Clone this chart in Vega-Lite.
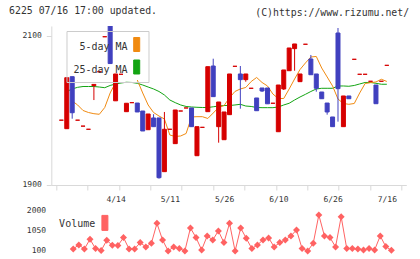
{
  "$schema": "https://vega.github.io/schema/vega-lite/v6.json",
  "background": "white",
  "padding": {"left": 8.3, "top": 6, "right": 0, "bottom": 0},
  "config": {
    "view": {"stroke": null},
    "font": "DejaVu Sans Mono",
    "axis": {"labelFont": "DejaVu Sans Mono", "labelFontSize": 8, "labelColor": "#333333", "domainColor": "#d9d9d9", "tickColor": "#d9d9d9", "grid": false}
  },
  "title": {"text": "6225 07/16 17:00 updated.", "anchor": "start", "frame": "group", "font": "DejaVu Sans Mono", "fontSize": 9.85, "fontWeight": "normal", "color": "#333333", "dy": 12, "dx": -42.2},
  "datasets": {
    "prices": [
      {"j": 0, "o": 1987, "c": 1987, "h": 1987, "l": 1987, "ma5": null, "ma25": null, "vol": null},
      {"j": 1, "o": 1975.6, "c": 2044, "h": 2044, "l": 1975.6, "ma5": null, "ma25": 2025.5, "vol": null},
      {"j": 2, "o": 2045.4, "c": 1997, "h": 2045.4, "l": 1989, "ma5": 2012.8, "ma25": 2028.9, "vol": null},
      {"j": 3, "o": 1987, "c": 1987, "h": 1987, "l": 1987, "ma5": 2007.4, "ma25": 2031.1, "vol": 194},
      {"j": 4, "o": 1979, "c": 1979, "h": 1979, "l": 1979, "ma5": 2000, "ma25": 2032.2, "vol": 383},
      {"j": 5, "o": 1974.8, "c": 1974.8, "h": 1974.8, "l": 1974.8, "ma5": 1997.3, "ma25": 2032.2, "vol": 194},
      {"j": 6, "o": 2033.5, "c": 2035, "h": 2035, "l": 2014, "ma5": 1995.7, "ma25": 2032.2, "vol": 647},
      {"j": 7, "o": 2052, "c": 2052, "h": 2052, "l": 2052, "ma5": 1994.9, "ma25": 2031.5, "vol": 208},
      {"j": 8, "o": 2099, "c": 2099, "h": 2099, "l": 2099, "ma5": 2004, "ma25": 2030.6, "vol": 114},
      {"j": 9, "o": 2125, "c": 2063, "h": 2125, "l": 2063, "ma5": 2023.5, "ma25": 2033.6, "vol": 600},
      {"j": 10, "o": 2013, "c": 2049, "h": 2049, "l": 2013, "ma5": 2037.6, "ma25": 2035.6, "vol": 364},
      {"j": 11, "o": 2048.6, "c": 2048.6, "h": 2048.6, "l": 2048.6, "ma5": null, "ma25": 2036.9, "vol": 350},
      {"j": 12, "o": 1998.4, "c": 2009.7, "h": 2009.7, "l": 1998.4, "ma5": null, "ma25": 2037.9, "vol": 727},
      {"j": 13, "o": 2010.5, "c": 2010.5, "h": 2010.5, "l": 2010.5, "ma5": null, "ma25": 2037.6, "vol": 194},
      {"j": 14, "o": 2010, "c": 1998, "h": 2010, "l": 1998, "ma5": 2040.9, "ma25": 2036.5, "vol": 194},
      {"j": 15, "o": 1999.3, "c": 1972.5, "h": 1999.3, "l": 1972.5, "ma5": 2023.5, "ma25": 2034.2, "vol": 491},
      {"j": 16, "o": 1974.2, "c": 1995.3, "h": 1995.3, "l": 1974.2, "ma5": 2007.4, "ma25": 2031.5, "vol": 289},
      {"j": 17, "o": 1990, "c": 1978.3, "h": 1995, "l": 1978.3, "ma5": 1997.3, "ma25": 2028.9, "vol": 458},
      {"j": 18, "o": 1990, "c": 1909.8, "h": 1990, "l": 1908.5, "ma5": 1992.6, "ma25": 2025.5, "vol": 1401},
      {"j": 19, "o": 1917.9, "c": 1974.8, "h": 1998, "l": 1917.9, "ma5": 1988.6, "ma25": 2020.8, "vol": 619},
      {"j": 20, "o": 1974.8, "c": 1974.8, "h": 1974.8, "l": 1974.8, "ma5": 1967.1, "ma25": 2014.1, "vol": 100},
      {"j": 21, "o": 1955.5, "c": 2000.7, "h": 2000.7, "l": 1955.5, "ma5": 1965.1, "ma25": 2010.5, "vol": 289},
      {"j": 22, "o": 1999.3, "c": 1999.3, "h": 1999.3, "l": 1999.3, "ma5": 1965.8, "ma25": 2007.4, "vol": 208},
      {"j": 23, "o": 2003.4, "c": 2003.4, "h": 2003.4, "l": 2003.4, "ma5": 1969.1, "ma25": 2005.4, "vol": 100},
      {"j": 24, "o": 2003.4, "c": 1978.3, "h": 2003.4, "l": 1978.3, "ma5": 1991.3, "ma25": 2004.7, "vol": 1184},
      {"j": 25, "o": 1939.3, "c": 1978.3, "h": 1978.3, "l": 1939.3, "ma5": 1991.7, "ma25": 2004.3, "vol": 727},
      {"j": 26, "o": 1977.4, "c": 1977.4, "h": 1977.4, "l": 1977.4, "ma5": 1991.7, "ma25": 2004, "vol": 147},
      {"j": 27, "o": 1998.4, "c": 2058.8, "h": 2058.8, "l": 1998.4, "ma5": 1989.3, "ma25": 2004, "vol": 807},
      {"j": 28, "o": 2059.7, "c": 2018.6, "h": 2069.5, "l": 2018.6, "ma5": 1996.6, "ma25": 2005, "vol": 619},
      {"j": 29, "o": 1978.3, "c": 2011.4, "h": 2011.4, "l": 1956.8, "ma5": 2004, "ma25": 2006, "vol": 1043},
      {"j": 30, "o": 1960.8, "c": 1998, "h": 1998, "l": 1960.8, "ma5": 2006.7, "ma25": 2006.7, "vol": 491},
      {"j": 31, "o": 1994.4, "c": 2049, "h": 2049, "l": 1994.4, "ma5": 2017, "ma25": 2006.7, "vol": 1401},
      {"j": 32, "o": 2059.3, "c": 2059.3, "h": 2059.3, "l": 2059.3, "ma5": 2025.5, "ma25": 2007.4, "vol": 90},
      {"j": 33, "o": 2049, "c": 2041.4, "h": 2059.7, "l": 2002.4, "ma5": 2028.9, "ma25": 2008.3, "vol": 1184},
      {"j": 34, "o": 2041.4, "c": 2049, "h": 2049, "l": 2038.6, "ma5": 2030.9, "ma25": 2006, "vol": 694},
      {"j": 35, "o": 2029.8, "c": 2029.8, "h": 2029.8, "l": 2029.8, "ma5": 2038.9, "ma25": 2005.4, "vol": 208},
      {"j": 36, "o": 2016.8, "c": 1999.7, "h": 2016.8, "l": 1999.7, "ma5": 2044.3, "ma25": 2004, "vol": 383},
      {"j": 37, "o": 2030.2, "c": 2026.2, "h": 2030.2, "l": 2024.8, "ma5": 2037.6, "ma25": 2003.8, "vol": 619},
      {"j": 38, "o": 2030.2, "c": 2009, "h": 2030.2, "l": 2009, "ma5": 2032.9, "ma25": 2003.8, "vol": 713},
      {"j": 39, "o": 2009.7, "c": 2009.7, "h": 2009.7, "l": 2009.7, "ma5": 2022.1, "ma25": 2003.8, "vol": 289},
      {"j": 40, "o": 1971.5, "c": 2034.2, "h": 2034.2, "l": 1971.5, "ma5": 2016.1, "ma25": 2004.7, "vol": 491},
      {"j": 41, "o": 2028.9, "c": 2054.4, "h": 2054.4, "l": 2027.5, "ma5": 2016.1, "ma25": 2007.4, "vol": 619},
      {"j": 42, "o": 2053.4, "c": 2083.9, "h": 2083.9, "l": 2053.4, "ma5": 2028.9, "ma25": 2009.7, "vol": 807},
      {"j": 43, "o": 2083, "c": 2089.3, "h": 2089.3, "l": 2053.4, "ma5": 2042.3, "ma25": 2014.1, "vol": 1090},
      {"j": 44, "o": 2038.7, "c": 2049, "h": 2049, "l": 2038.7, "ma5": 2055, "ma25": 2018.1, "vol": 208},
      {"j": 45, "o": 2088.9, "c": 2088.9, "h": 2088.9, "l": 2088.9, "ma5": 2063.8, "ma25": 2021.7, "vol": 100},
      {"j": 46, "o": 2069.1, "c": 2048, "h": 2074.5, "l": 2048, "ma5": 2071.8, "ma25": 2025.5, "vol": 458},
      {"j": 47, "o": 2049, "c": 2029.8, "h": 2049, "l": 2025.2, "ma5": 2072.5, "ma25": 2028.9, "vol": 1797},
      {"j": 48, "o": 2024.8, "c": 2015.8, "h": 2024.8, "l": 2015.8, "ma5": 2057, "ma25": 2029.8, "vol": 807},
      {"j": 49, "o": 2010, "c": 1998, "h": 2010, "l": 1994.4, "ma5": 2045, "ma25": 2029.8, "vol": 727},
      {"j": 50, "o": 1991.3, "c": 1978.3, "h": 1991.3, "l": 1978.3, "ma5": 2032.9, "ma25": 2029.8, "vol": 289},
      {"j": 51, "o": 2104, "c": 2029.3, "h": 2110.7, "l": 1985, "ma5": 2015.4, "ma25": 2032.9, "vol": 1717},
      {"j": 52, "o": 1978.3, "c": 2019.5, "h": 2019.5, "l": 1978.3, "ma5": 2009.4, "ma25": 2032.9, "vol": 208},
      {"j": 53, "o": 2019.5, "c": 2015.8, "h": 2019.5, "l": 2015.8, "ma5": 2008.3, "ma25": 2032.5, "vol": 208},
      {"j": 54, "o": 2068.7, "c": 2068.7, "h": 2068.7, "l": 2068.7, "ma5": 2009.4, "ma25": 2033.6, "vol": 194},
      {"j": 55, "o": 2048.6, "c": 2048.6, "h": 2048.6, "l": 2048.6, "ma5": 2023.5, "ma25": 2035.6, "vol": 147},
      {"j": 56, "o": 2048.6, "c": 2048.6, "h": 2048.6, "l": 2048.6, "ma5": 2036.2, "ma25": 2037.6, "vol": 208},
      {"j": 57, "o": 2039.2, "c": 2039.2, "h": 2039.2, "l": 2039.2, "ma5": 2037.3, "ma25": 2037.6, "vol": 147},
      {"j": 58, "o": 2034.2, "c": 2009.1, "h": 2034.2, "l": 2009.1, "ma5": 2038.3, "ma25": 2036.5, "vol": 807},
      {"j": 59, "o": 2039.2, "c": 2039.2, "h": 2039.2, "l": 2039.2, "ma5": 2041.9, "ma25": 2035.2, "vol": 303},
      {"j": 60, "o": 2060.6, "c": 2060.6, "h": 2060.6, "l": 2060.6, "ma5": 2039, "ma25": 2035.2, "vol": 128}
    ]
  },
  "spacing": 2,
  "resolve": {"scale": {"color": "independent"}, "legend": {"color": "independent"}},
  "vconcat": [
    {
      "width": 355,
      "height": 159,
      "title": {"text": "(C)https://www.rizumu.net/", "anchor": "end", "frame": "group", "font": "DejaVu Sans Mono", "fontSize": 9.85, "fontWeight": "normal", "color": "#333333", "offset": 8, "dx": 2.8},
      "data": {"name": "prices"},
      "encoding": {
        "x": {
          "field": "j", "type": "quantitative",
          "scale": {"domain": [-0.93, 62.67], "nice": false, "zero": false},
          "axis": {
            "title": null,
            "values": [-0.93, 4.85, 10.63, 16.42, 22.2, 27.98, 33.76, 39.54, 45.32, 51.11, 56.89, 62.67, 10, 20, 30, 40, 50, 60],
            "tickSize": 5,
            "tickOpacity": {"condition": {"test": "datum.value % 10 === 0", "value": 0}, "value": 1},
            "labelPadding": 6,
            "labelOverlap": false,
            "labelExpr": "datum.value == 10 ? '4/14' : datum.value == 20 ? '5/11' : datum.value == 30 ? '5/26' : datum.value == 40 ? '6/10' : datum.value == 50 ? '6/26' : datum.value == 60 ? '7/16' : ''"
          }
        }
      },
      "layer": [
        {
          "mark": {"type": "line", "strokeWidth": 1, "clip": true, "invalid": "break-paths-show-domains"},
          "encoding": {
            "y": {"field": "ma25", "type": "quantitative"},
            "color": {
              "datum": "25-day MA", "type": "nominal",
              "scale": {"domain": ["5-day MA", "25-day MA"], "range": ["#f08a10", "#12a412"]},
              "legend": {
                "orient": "none", "legendX": 15.2, "legendY": 5,
                "title": null,
                "strokeColor": "#cccccc",
                "padding": 6,
                "rowPadding": 3.5,
                "symbolType": "M-0.43,-1H0.43V1H-0.43Z",
                "symbolSize": 196,
                "symbolStrokeWidth": 1,
                "symbolStrokeColor": "#333333",
                "labelFont": "DejaVu Sans Mono",
                "labelFontSize": 10,
                "labelColor": "#333333",
                "encode": {
                  "symbols": {"update": {"x": {"value": 64.2}, "fill": [{"test": "datum.label === '5-day MA'", "value": "#f08a10"}, {"value": "#12a412"}], "fillOpacity": {"value": 1}, "stroke": {"value": "#333333"}}},
                  "labels": {"update": {"x": {"value": 55}, "align": {"value": "right"}, "dy": {"value": 2.5}}}
                }
              }
            }
          }
        },
        {
          "mark": {"type": "line", "strokeWidth": 1, "clip": true, "invalid": "break-paths-show-domains"},
          "encoding": {
            "y": {"field": "ma5", "type": "quantitative"},
            "color": {"datum": "5-day MA", "type": "nominal"}
          }
        },
        {
          "mark": {"type": "rule", "strokeWidth": 1, "clip": true},
          "encoding": {
            "y": {"field": "l", "type": "quantitative"},
            "y2": {"field": "h"},
            "color": {"condition": {"test": "datum.c < datum.o", "value": "#4040bf"}, "value": "#d60000"}
          }
        },
        {
          "mark": {"type": "bar", "size": 4, "strokeWidth": 1, "clip": true},
          "encoding": {
            "y": {
              "field": "o", "type": "quantitative",
              "scale": {"domain": [1900, 2113.4], "nice": false, "zero": false},
              "axis": {"title": null, "values": [1900, 2100], "format": "d", "tickSize": 5, "labelPadding": 5, "minExtent": 30, "maxExtent": 30}
            },
            "y2": {"field": "c"},
            "color": {"condition": {"test": "datum.c < datum.o", "value": "#4040bf"}, "value": "#d60000"},
            "stroke": {"condition": {"test": "datum.c < datum.o", "value": "#4040bf"}, "value": "#d60000"}
          }
        }
      ]
    },
    {
      "width": 355,
      "height": 45,
      "data": {"name": "prices"},
      "encoding": {
        "x": {"field": "j", "type": "quantitative", "scale": {"domain": [-0.93, 62.67], "nice": false, "zero": false}, "axis": null},
        "y": {
          "field": "vol", "type": "quantitative",
          "scale": {"domain": [0, 2127], "nice": false},
          "axis": {"title": null, "values": [100, 1050, 2000], "format": "d", "domain": false, "ticks": false, "labelPadding": 5.7, "minExtent": 30, "maxExtent": 30}
        },
        "color": {
          "datum": "Volume", "type": "nominal",
          "scale": {"range": ["#ff6262"]},
          "legend": {
            "orient": "none", "legendX": 7.4, "legendY": 6.9,
            "title": null,
            "padding": 0,
            "symbolType": "M-0.4,-1H0.4V1H-0.4Z",
            "symbolSize": 225,
            "symbolStrokeWidth": 1,
            "symbolStrokeColor": "#333333",
            "labelFont": "DejaVu Sans Mono",
            "labelFontSize": 10,
            "labelColor": "#333333",
            "encode": {
              "symbols": {"update": {"x": {"value": 46.2}, "fill": {"value": "#ff6262"}, "fillOpacity": {"value": 1}, "stroke": {"value": "#333333"}}},
              "labels": {"update": {"x": {"value": 36.5}, "align": {"value": "right"}, "dy": {"value": 1.2}}}
            }
          }
        }
      },
      "layer": [
        {"mark": {"type": "line", "strokeWidth": 1, "invalid": "break-paths-show-domains"}},
        {"mark": {"type": "point", "shape": "diamond", "filled": true, "size": 49, "opacity": 1}}
      ]
    }
  ]
}
